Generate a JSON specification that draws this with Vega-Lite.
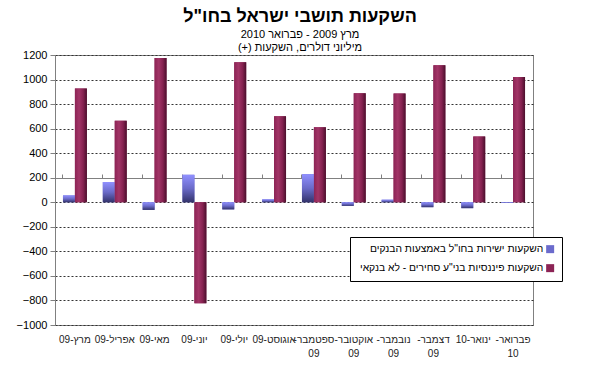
{
  "$schema": "https://vega.github.io/schema/vega-lite/v6.json",
  "width": 478,
  "height": 270,
  "autosize": {"type": "none"},
  "padding": {"left": 55, "top": 55, "right": 61, "bottom": 40},
  "background": "white",
  "config": {
    "font": "Liberation Sans",
    "view": {"stroke": "#808080", "strokeWidth": 1},
    "axis": {"labelFont": "Liberation Sans", "labelColor": "#000000"}
  },
  "title": {
    "text": "השקעות תושבי ישראל בחו\"ל",
    "subtitle": ["מרץ 2009 - פברואר 2010", "מיליוני דולרים, השקעות (+)‏"],
    "fontSize": 18,
    "fontWeight": "bold",
    "color": "#000000",
    "subtitleFontSize": 11,
    "subtitleColor": "#000000",
    "subtitlePadding": 3,
    "subtitleLineHeight": 13,
    "anchor": "middle",
    "dx": 6,
    "offset": -4
  },
  "data": {
    "values": [
      {"month": "מרץ-09", "series": "השקעות ישירות בחו\"ל באמצעות הבנקים", "value": 56},
      {"month": "מרץ-09", "series": "השקעות פיננסיות בני\"ע סחירים - לא בנקאי", "value": 927},
      {"month": "אפריל-09", "series": "השקעות ישירות בחו\"ל באמצעות הבנקים", "value": 165},
      {"month": "אפריל-09", "series": "השקעות פיננסיות בני\"ע סחירים - לא בנקאי", "value": 665},
      {"month": "מאי-09", "series": "השקעות ישירות בחו\"ל באמצעות הבנקים", "value": -62},
      {"month": "מאי-09", "series": "השקעות פיננסיות בני\"ע סחירים - לא בנקאי", "value": 1176},
      {"month": "יוני-09", "series": "השקעות ישירות בחו\"ל באמצעות הבנקים", "value": 224},
      {"month": "יוני-09", "series": "השקעות פיננסיות בני\"ע סחירים - לא בנקאי", "value": -822},
      {"month": "יולי-09", "series": "השקעות ישירות בחו\"ל באמצעות הבנקים", "value": -58},
      {"month": "יולי-09", "series": "השקעות פיננסיות בני\"ע סחירים - לא בנקאי", "value": 1141},
      {"month": "אוגוסט-09", "series": "השקעות ישירות בחו\"ל באמצעות הבנקים", "value": 24},
      {"month": "אוגוסט-09", "series": "השקעות פיננסיות בני\"ע סחירים - לא בנקאי", "value": 700},
      {"month": "ספטמבר-‏|09", "series": "השקעות ישירות בחו\"ל באמצעות הבנקים", "value": 229},
      {"month": "ספטמבר-‏|09", "series": "השקעות פיננסיות בני\"ע סחירים - לא בנקאי", "value": 611},
      {"month": "אוקטובר-‏|09", "series": "השקעות ישירות בחו\"ל באמצעות הבנקים", "value": -29},
      {"month": "אוקטובר-‏|09", "series": "השקעות פיננסיות בני\"ע סחירים - לא בנקאי", "value": 889},
      {"month": "נובמבר-‏|09", "series": "השקעות ישירות בחו\"ל באמצעות הבנקים", "value": 21},
      {"month": "נובמבר-‏|09", "series": "השקעות פיננסיות בני\"ע סחירים - לא בנקאי", "value": 886},
      {"month": "דצמבר-‏|09", "series": "השקעות ישירות בחו\"ל באמצעות הבנקים", "value": -40},
      {"month": "דצמבר-‏|09", "series": "השקעות פיננסיות בני\"ע סחירים - לא בנקאי", "value": 1116},
      {"month": "ינואר-10", "series": "השקעות ישירות בחו\"ל באמצעות הבנקים", "value": -48},
      {"month": "ינואר-10", "series": "השקעות פיננסיות בני\"ע סחירים - לא בנקאי", "value": 535},
      {"month": "פברואר-‏|10", "series": "השקעות ישירות בחו\"ל באמצעות הבנקים", "value": -6},
      {"month": "פברואר-‏|10", "series": "השקעות פיננסיות בני\"ע סחירים - לא בנקאי", "value": 1020}
    ]
  },
  "resolve": {"axis": {"x": "independent"}},
  "layer": [
    {
      "mark": {"type": "bar"},
      "encoding": {
        "x": {
          "field": "month",
          "type": "nominal",
          "sort": null,
          "scale": {"paddingInner": 0.4, "paddingOuter": 0.2},
          "axis": {
            "title": null,
            "labelAngle": 0,
            "labelExpr": "split(datum.value, '|')",
            "labelFontSize": 10,
            "labelColor": "#222222",
            "labelPadding": 9,
            "labelLineHeight": 14,
            "labelBaseline": "top",
            "labelOverlap": false,
            "ticks": false,
            "domain": false,
            "grid": false,
            "labelLimit": 100
          }
        },
        "xOffset": {"field": "series", "type": "nominal"},
        "y": {
          "field": "value",
          "type": "quantitative",
          "scale": {"domain": [-1000, 1200], "nice": false, "zero": false},
          "axis": {
            "title": null,
            "values": [-1000, -800, -600, -400, -200, 0, 200, 400, 600, 800, 1000, 1200],
            "tickCount": 12,
            "format": "d",
            "labelOverlap": false,
            "labelFontSize": 11,
            "labelPadding": 3,
            "tickSize": 5,
            "tickColor": "#808080",
            "domainColor": "#808080",
            "grid": true,
            "gridColor": "#333333",
            "gridDash": [2, 2],
            "gridWidth": 1
          }
        },
        "color": {
          "field": "series",
          "type": "nominal",
          "scale": {
            "domain": ["השקעות ישירות בחו\"ל באמצעות הבנקים", "השקעות פיננסיות בני\"ע סחירים - לא בנקאי"],
            "range": ["#6b6bcc", "#8c2455"]
          },
          "legend": {
            "title": null,
            "orient": "none",
            "legendX": 295,
            "legendY": 182,
            "padding": 7,
            "strokeColor": "#000000",
            "fillColor": "#ffffff",
            "symbolType": "square",
            "symbolSize": 64,
            "symbolStrokeWidth": 0,
            "symbolOffset": 188,
            "labelFontSize": 10.3,
            "labelColor": "#000000",
            "labelLimit": 300,
            "labelAlign": "right",
            "labelOffset": -12,
            "rowPadding": 8
          }
        }
      }
    },
    {
      "transform": [{"filter": "indexof(datum.series, 'ישירות') >= 0"}],
      "mark": {"type": "bar", "color": {"gradient": "linear", "x1": 0, "y1": 0, "x2": 0, "y2": 1, "stops": [
        {"offset": 0, "color": "#9090ff"},
        {"offset": 0.5, "color": "#6a6ac8"},
        {"offset": 1, "color": "#33336b"}
      ]}},
      "encoding": {
        "x": {"field": "month", "type": "nominal", "sort": null, "axis": null},
        "xOffset": {"field": "series", "type": "nominal"},
        "y": {"field": "value", "type": "quantitative"}
      }
    },
    {
      "transform": [{"filter": "indexof(datum.series, 'פיננסיות') >= 0"}],
      "mark": {"type": "bar", "color": {"gradient": "linear", "x1": 0, "y1": 0, "x2": 1, "y2": 0, "stops": [
        {"offset": 0, "color": "#8c2455"},
        {"offset": 0.35, "color": "#a23567"},
        {"offset": 0.7, "color": "#84214f"},
        {"offset": 1, "color": "#4a0f2c"}
      ]}},
      "encoding": {
        "x": {"field": "month", "type": "nominal", "sort": null, "axis": null},
        "xOffset": {"field": "series", "type": "nominal"},
        "y": {"field": "value", "type": "quantitative"}
      }
    },
    {
      "mark": {"type": "tick", "opacity": 0},
      "encoding": {
        "x": {
          "field": "month",
          "type": "nominal",
          "sort": null,
          "axis": {
            "title": null,
            "labels": false,
            "offset": -123,
            "bandPosition": 0,
            "tickSize": 4,
            "tickColor": "#808080",
            "domainColor": "#808080",
            "grid": false
          }
        },
        "y": {"datum": 0}
      }
    }
  ]
}
